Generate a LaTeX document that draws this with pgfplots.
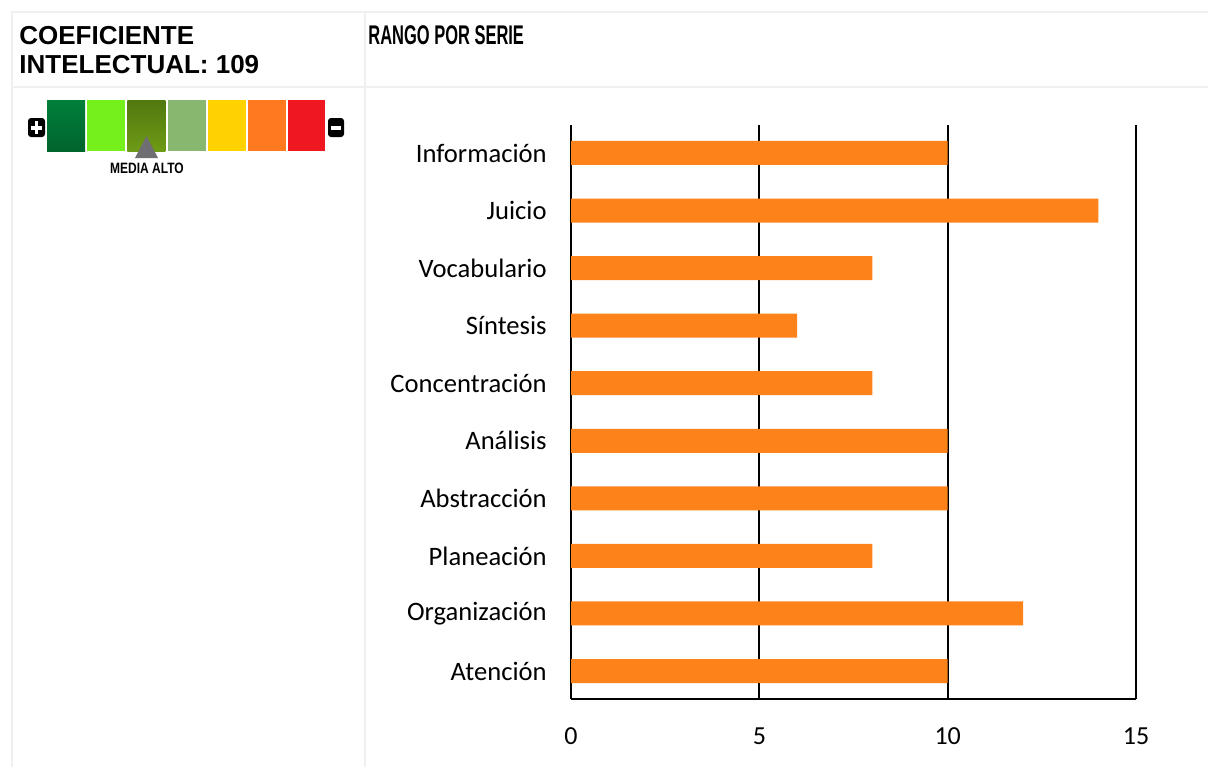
\documentclass[border=0pt]{standalone}
\usepackage{fontspec}
\setmainfont{Carlito}
\newfontfamily\arialf{Liberation Sans}
\newfontfamily\narrowa{Liberation Sans}[FakeStretch=0.61]
\newfontfamily\narrowb{Liberation Sans}[FakeStretch=0.8]
\usepackage{pgfplots}
\pgfplotsset{compat=1.18}
\definecolor{barorange}{RGB}{253,130,25}
\definecolor{framegray}{RGB}{240,240,240}
\definecolor{g1}{RGB}{0,128,58}
\definecolor{g1d}{RGB}{0,100,45}
\definecolor{g2}{RGB}{118,240,26}
\definecolor{g3}{RGB}{110,155,22}
\definecolor{g3d}{RGB}{80,120,15}
\definecolor{g4}{RGB}{136,184,112}
\definecolor{g5}{RGB}{255,210,0}
\definecolor{g6}{RGB}{255,122,30}
\definecolor{g7}{RGB}{240,24,32}
\definecolor{trigray}{RGB}{110,110,115}
\begin{document}
\begin{tikzpicture}
\begin{scope}[x=0.5pt,y=-0.5pt]
\path[use as bounding box, fill=white] (0,0) rectangle (1208,767);
% frame
\draw[framegray, line width=1pt] (11,11.5) -- (1208,11.5);
\draw[framegray, line width=1pt] (11,87) -- (1208,87);
\draw[framegray, line width=1pt] (11.5,11) -- (11.5,767);
\draw[framegray, line width=1pt] (365,11) -- (365,767);
% headers
\node[anchor=base west, inner sep=0pt, font=\arialf\bfseries\fontsize{13}{15}\selectfont] at (19,44) {COEFICIENTE};
\node[anchor=base west, inner sep=0pt, font=\arialf\bfseries\fontsize{13}{15}\selectfont] at (19,73) {INTELECTUAL: 109};
\node[anchor=base west, inner sep=0pt, font=\narrowa\bfseries\fontsize{13.5}{15}\selectfont] at (368,44) {RANGO POR SERIE};
% gauge
\shade[top color=g1, bottom color=g1d] (47,100) rectangle (85,151);
\fill[g2] (87.2,100) rectangle (125.2,151);
\shade[top color=g3d, bottom color=g3] (127.4,100) rectangle (165.4,151);
\fill[g4] (167.6,100) rectangle (205.6,151);
\fill[g5] (207.8,100) rectangle (245.8,151);
\fill[g6] (248,100) rectangle (286,151);
\fill[g7] (288.2,100) rectangle (325.2,151);
% plus / minus
\fill[black, rounded corners=1.5pt] (28,118) rectangle (45,137);
\fill[white] (31,126) rectangle (42,129.5);
\fill[white] (34.8,121) rectangle (38.2,134);
\fill[black, rounded corners=1.5pt] (328,118) rectangle (344,137);
\fill[white] (331,126) rectangle (341,129.5);
% marker
\fill[trigray] (135,158) -- (158,158) -- (146.5,136) -- cycle;
\node[anchor=base, inner sep=0pt, font=\narrowb\bfseries\fontsize{7.5}{8}\selectfont] at (147,173) {MEDIA ALTO};
\coordinate (axsw) at (571,699);
\end{scope}
% chart
\begin{axis}[
  at={(axsw)}, anchor=south west,
  scale only axis, width=282.5pt, height=287pt,
  xmin=0, xmax=15, ymin=-0.486, ymax=9.486,
  xtick={0,5,10,15}, ytick={0,...,9},
  yticklabels={Atención,Organización,Planeación,Abstracción,Análisis,Concentración,Síntesis,Vocabulario,Juicio,Información},
  axis x line=bottom, axis y line=left,
  axis line style={-, black, line width=0.9pt},
  major tick length=0pt,
  xmajorgrids, major grid style={black, line width=0.9pt},
  /pgf/number format/assume math mode=true,
  yticklabel style={font=\fontsize{13.3}{15}\selectfont, inner sep=0pt, anchor=east, xshift=-12pt},
  xticklabel style={font=\fontsize{13}{15}\selectfont, inner sep=0pt, anchor=north, yshift=-14pt},
  xbar, bar width=12pt,
]
\addplot[fill=barorange, draw=none] coordinates {(10,9) (14,8) (8,7) (6,6) (8,5) (10,4) (10,3) (8,2) (12,1) (10,0)};
\end{axis}
\end{tikzpicture}
\end{document}
